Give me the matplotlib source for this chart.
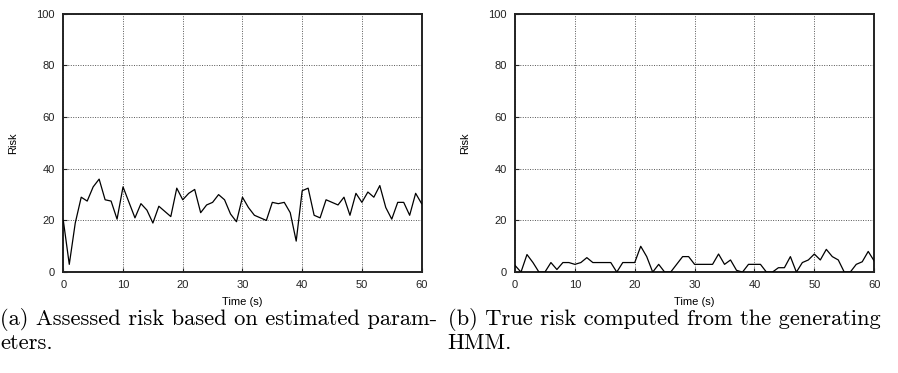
import matplotlib
matplotlib.use('Agg')
import matplotlib.pyplot as plt
import numpy as np

# time axis (s), one sample per second
time_s = np.arange(0, 61)

# (a) assessed risk, estimated parameters
risk_est = [20, 3, 19, 29, 27.5, 33, 36, 28, 27.5, 20.5,
            33, 27, 21, 26.5, 24, 19, 25.5, 23.5, 21.5, 32.5,
            28, 30.5, 32, 23, 26, 27, 30, 28, 22.5, 19.5,
            29, 25, 22, 21, 20, 27, 26.5, 27, 23, 12,
            31.5, 32.5, 22, 21, 28, 27, 26, 29, 22, 30.5,
            27, 31, 29, 33.5, 25, 20.5, 27, 27, 22, 30.5,
            26.5]

# (b) true risk from the generating HMM
risk_true = [2.6, 0, 6.8, 3.7, 0, 0, 3.7, 1, 3.7, 3.7,
             3, 3.7, 5.6, 3.7, 3.7, 3.7, 3.7, 0, 3.7, 3.7,
             3.7, 10, 6, 0, 3, 0, 0, 3, 6, 6,
             3, 3, 3, 3, 7, 3, 4.7, 0.7, 0, 3,
             3, 3, 0, 0, 1.7, 1.7, 6, 0, 3.7, 4.7,
             7, 4.7, 8.8, 6, 4.7, 0, 0, 3, 4, 8,
             4.3]

xticks = [0, 10, 20, 30, 40, 50, 60]
yticks = [0, 20, 40, 60, 80, 100]

captions = ['(a) Assessed risk based on estimated param-\neters.',
            '(b) True risk computed from the generating\nHMM.']

fig = plt.figure(figsize=(8.98, 3.73), dpi=100)
ax_pos = [[0.0705, 0.2705, 0.399, 0.6925],
          [0.5735, 0.2705, 0.400, 0.6925]]

for k, series in enumerate([risk_est, risk_true]):
    ax = fig.add_axes(ax_pos[k])
    ax.plot(time_s, series, color='black', linewidth=0.9, zorder=3)
    ax.set_xlim(0, 60)
    ax.set_ylim(0, 100)
    ax.set_xticks(xticks)
    ax.set_yticks(yticks)
    ax.grid(True, color='#555555', linestyle=(0, (1, 1.5)), linewidth=0.7)
    for s in ax.spines.values():
        s.set_linewidth(1.4)
        s.set_color('#222222')
    ax.tick_params(direction='in', length=3, width=0.8, labelsize=8,
                   colors='#222222', pad=6, top=False, right=False)
    for lab in ax.get_xticklabels() + ax.get_yticklabels():
        lab.set_family('Liberation Sans')
    ax.set_xlabel('Time (s)', fontsize=8, family='Liberation Sans', labelpad=5)
    ax.set_ylabel('Risk', fontsize=8, family='Liberation Sans')
    ax.yaxis.set_label_coords(-0.125, 0.5)

fig.text(0.0, 0.173, captions[0], fontsize=16.2, family='cmr10',
         va='top', ha='left', linespacing=1.1)
fig.text(0.4985, 0.173, captions[1], fontsize=16.2, family='cmr10',
         va='top', ha='left', linespacing=1.1)

plt.savefig('out.png', dpi=100)
